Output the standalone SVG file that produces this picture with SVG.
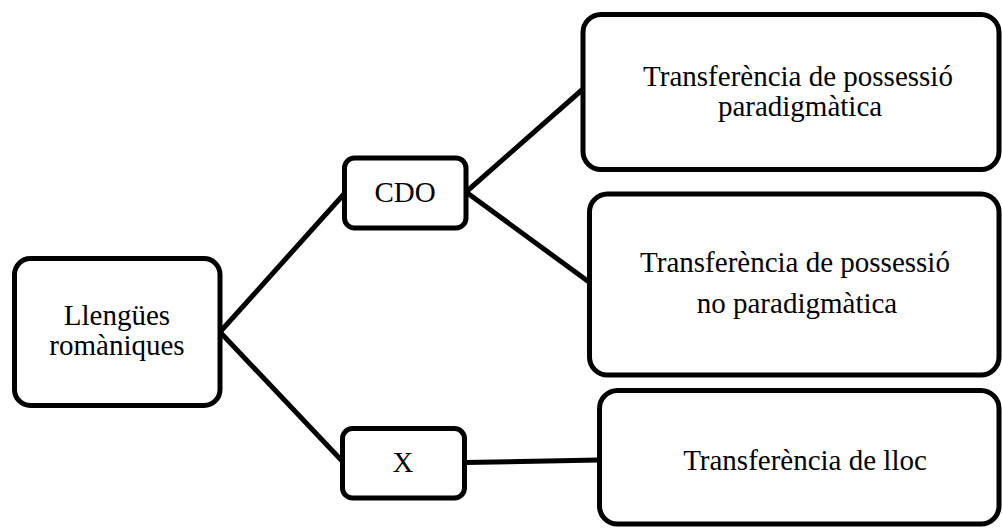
<svg xmlns="http://www.w3.org/2000/svg" width="1002" height="528" viewBox="0 0 1002 528">
  <style>
    .box { fill: #ffffff; stroke: #000000; stroke-width: 5; }
    .lbl { font-family: "Liberation Serif", "Times New Roman", serif; font-size: 29px; fill: #000000; text-anchor: middle; }
    .edge { stroke: #000000; stroke-width: 5; fill: none; stroke-linecap: butt; }
  </style>
  <rect width="1002" height="528" fill="#ffffff"/>

  <!-- connectors -->
  <g id="connectors">
    <line class="edge" x1="220" y1="332" x2="344" y2="194"/>
    <line class="edge" x1="220" y1="332" x2="344" y2="463"/>
    <line class="edge" x1="466" y1="192" x2="583" y2="89"/>
    <line class="edge" x1="466" y1="192" x2="589" y2="282"/>
    <line class="edge" x1="464" y1="462.5" x2="599" y2="460"/>
  </g>

  <!-- root -->
  <g id="node-llengues">
    <rect class="box" x="14.5" y="258.5" width="205.5" height="147" rx="16"/>
    <text class="lbl" x="117" y="325">Llengües</text>
    <text class="lbl" x="117" y="355">romàniques</text>
  </g>

  <!-- second level -->
  <g id="node-cdo">
    <rect class="box" x="344.5" y="158" width="121.5" height="70" rx="10"/>
    <text class="lbl" x="405" y="202">CDO</text>
  </g>
  <g id="node-x">
    <rect class="box" x="342.5" y="428.5" width="122" height="69.5" rx="10"/>
    <text class="lbl" x="403" y="472">X</text>
  </g>

  <!-- leaves -->
  <g id="node-paradigmatica">
    <rect class="box" x="583" y="14.5" width="416" height="155" rx="18"/>
    <text class="lbl" x="798" y="86">Transferència de possessió</text>
    <text class="lbl" x="800" y="116">paradigmàtica</text>
  </g>
  <g id="node-no-paradigmatica">
    <rect class="box" x="589.5" y="194" width="409.5" height="181" rx="18"/>
    <text class="lbl" x="795" y="272">Transferència de possessió</text>
    <text class="lbl" x="797" y="313">no paradigmàtica</text>
  </g>
  <g id="node-lloc">
    <rect class="box" x="599.5" y="390.5" width="399.5" height="133.5" rx="18"/>
    <text class="lbl" x="805" y="470">Transferència de lloc</text>
  </g>
</svg>
